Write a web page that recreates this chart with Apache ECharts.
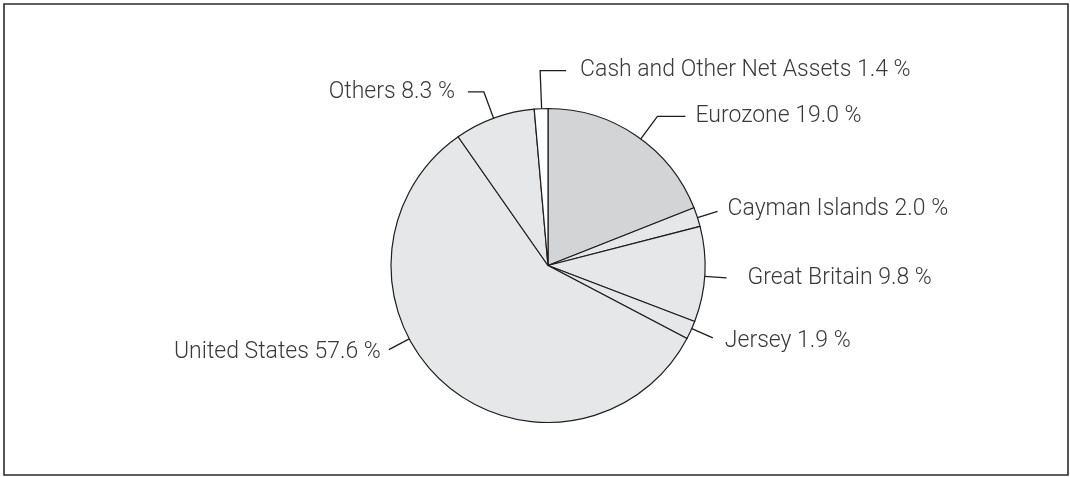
<!DOCTYPE html>
<html>
<head>
<meta charset="utf-8">
<script src="https://cdn.jsdelivr.net/npm/echarts@6/dist/echarts.min.js"></script>
<style>
html,body{margin:0;padding:0;background:#fff;}
#chart{width:1070px;height:477px;}
</style>
</head>
<body>
<div id="chart"></div>
<script>
const categories = ['Eurozone', 'Cayman Islands', 'Great Britain', 'Jersey', 'United States', 'Others', 'Cash and Other Net Assets'];
const values = [19.0, 2.0, 9.8, 1.9, 57.6, 8.3, 1.4];
const sliceColors = ['#d3d4d5', '#e6e7e8', '#e6e7e8', '#e6e7e8', '#e6e7e8', '#e6e7e8', '#ffffff'];

// label guide styling per slice: anchor = fraction along slice, len1 radial, len2 horizontal
const guides = [
  {anchor: 0.53, len1: 28, len2: 28, side: 1, gap: 10, dy: 0},
  {anchor: 0.54, len1: 21, len2: 0, side: 1, gap: 10, dy: -2},
  {anchor: 0.52, len1: 22, len2: 0, side: 1, gap: 21, dy: 0},
  {anchor: 0.41, len1: 23, len2: 0, side: 1, gap: 12, dy: 3},
  {anchor: 0.60, len1: 23, len2: 0, side: -1, gap: 8, dy: 3},
  {anchor: 0.49, len1: 28, len2: 16, side: -1, gap: 13, dy: 0},
  {anchor: 0.54, len1: 38, len2: 26, side: 1, gap: 14, dy: 0}
];

const CX = 548, CY = 265.5, R = 157;
const total = values.reduce((a, b) => a + b, 0);
const cum = [];
values.reduce((acc, v, i) => { cum[i] = acc; return acc + v; }, 0);

const chart = echarts.init(document.getElementById('chart'), null, {renderer: 'canvas'});

const option = {
  animation: false,
  backgroundColor: '#fff',
  graphic: [{
    type: 'rect',
    shape: {x: 4, y: 4, width: 1064, height: 471},
    style: {fill: 'none', stroke: '#2b2b2b', lineWidth: 1.6},
    silent: true
  }],
  series: [{
    type: 'pie',
    center: [CX, CY],
    radius: R,
    startAngle: 90,
    clockwise: true,
    avoidLabelOverlap: false,
    emphasis: {disabled: true},
    itemStyle: {borderColor: '#1e1e1e', borderWidth: 1.2},
    label: {
      show: true,
      position: 'outside',
      fontFamily: 'Roboto',
      fontWeight: 300,
      fontSize: 23,
      color: '#3a3a3a',
      formatter: p => p.name + ' ' + p.value.toFixed(1) + ' %'
    },
    labelLine: {show: true, smooth: false, lineStyle: {color: '#1e1e1e', width: 1.3}},
    labelLayout: function (params) {
      const i = params.dataIndex;
      const g = guides[i];
      const th = 2 * Math.PI * (cum[i] + g.anchor * values[i]) / total;
      const s = Math.sin(th), c = Math.cos(th);
      const p0 = [CX + R * s, CY - R * c];
      const p1 = [CX + (R + g.len1) * s, CY - (R + g.len1) * c];
      const p2 = [p1[0] + g.side * g.len2, p1[1]];
      return {
        x: p2[0] + g.side * g.gap,
        y: p2[1] + g.dy,
        align: g.side > 0 ? 'left' : 'right',
        verticalAlign: 'middle',
        labelLinePoints: [p0, p1, p2]
      };
    },
    data: categories.map((name, i) => ({
      name: name,
      value: values[i],
      itemStyle: {color: sliceColors[i]}
    }))
  }]
};
chart.setOption(option);
</script>
</body>
</html>
